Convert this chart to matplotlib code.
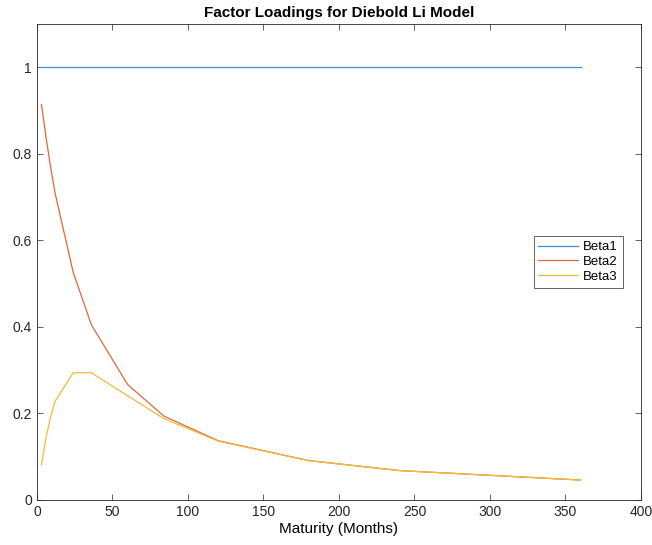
import matplotlib
matplotlib.use('Agg')
from matplotlib import pyplot as plt

plt.rcParams['font.family'] = ['Liberation Sans', 'DejaVu Sans']

# maturities in months
maturity = [3, 6, 9, 12, 24, 36, 60, 84, 120, 180, 240, 360]
beta1 = [1, 1, 1, 1, 1, 1, 1, 1, 1, 1, 1, 1]
beta2 = [0.914, 0.838, 0.770, 0.709, 0.526, 0.405, 0.267, 0.194, 0.137, 0.091, 0.068, 0.046]
beta3 = [0.081, 0.144, 0.192, 0.228, 0.294, 0.294, 0.241, 0.188, 0.136, 0.091, 0.068, 0.046]

colors = ['#3d8fcf', '#e0683a', '#efbb3a']

fig = plt.figure(figsize=(6.52, 5.45), dpi=100)
ax = fig.add_axes([0.0567, 0.0826, 0.9264, 0.8734])

ax.plot(maturity, beta1, c=colors[0], lw=0.9, label='Beta1')
ax.plot(maturity, beta2, c=colors[1], lw=0.9, label='Beta2')
ax.plot(maturity, beta3, c=colors[2], lw=0.9, label='Beta3')

ax.set_xlim(0, 400)
ax.set_ylim(0, 1.1)
ax.set_xticks(range(0, 401, 50))
ax.set_yticks([0, 0.2, 0.4, 0.6, 0.8, 1])
ax.set_yticklabels(['0', '0.2', '0.4', '0.6', '0.8', '1'])
ax.tick_params(axis='both', direction='in', labelsize=10, length=4, width=0.5,
               top=True, right=True, colors='#262626')
for s in ax.spines.values():
    s.set_linewidth(0.6)
    s.set_color('#262626')

ax.set_title('Factor Loadings for Diebold Li Model', fontsize=11, fontweight='bold', pad=5)
ax.set_xlabel('Maturity (Months)', fontsize=11, labelpad=2)

leg = ax.legend(loc='center right', fontsize=9.5, fancybox=False, framealpha=1,
                edgecolor='#262626', handlelength=3.0, handletextpad=0.4,
                borderpad=0.35, labelspacing=0.2, borderaxespad=1.4)
leg.get_frame().set_linewidth(0.5)

fig.savefig('out.png')
